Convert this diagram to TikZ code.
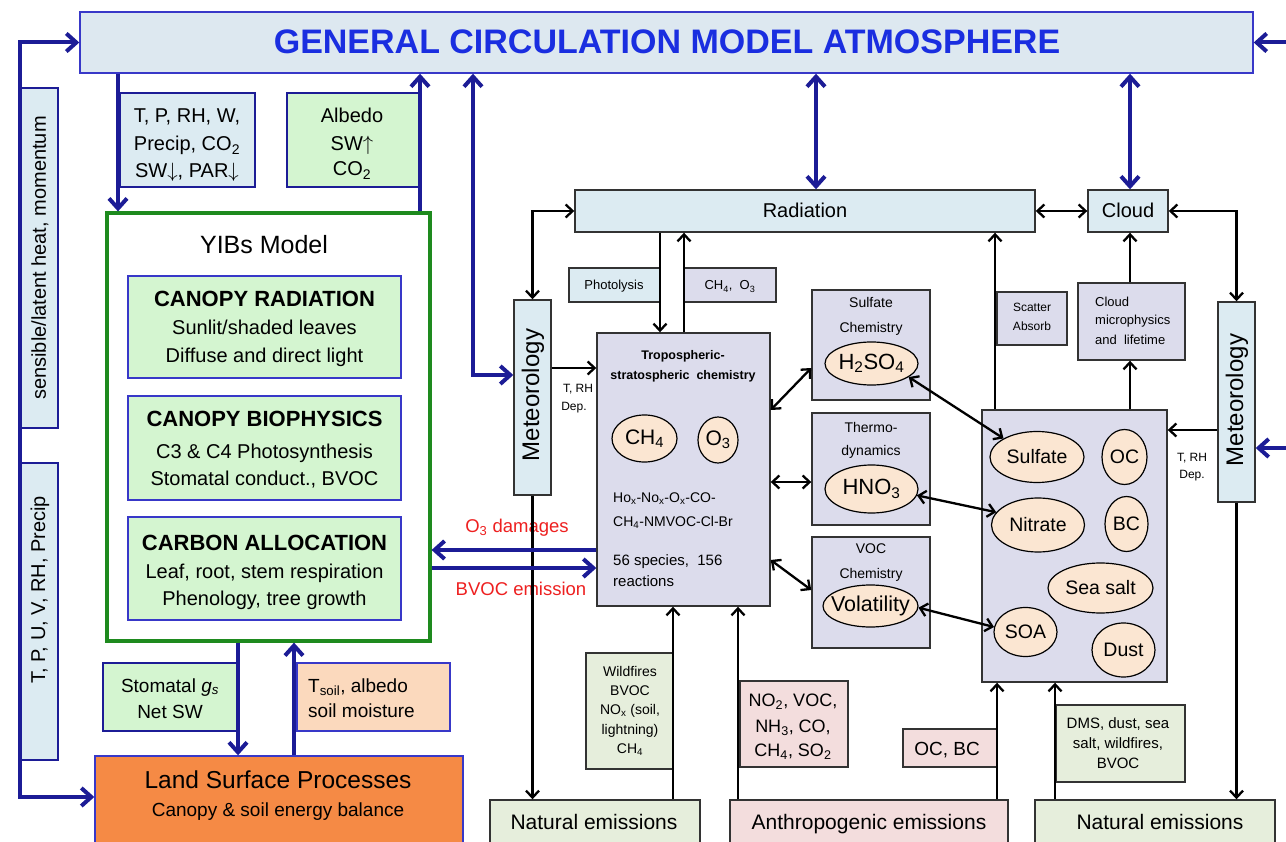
\documentclass[tikz,border=0pt]{standalone}
\usepackage{fontspec}
\setmainfont{Liberation Sans}
\usetikzlibrary{arrows.meta,shapes.geometric}
\definecolor{gcmfill}{HTML}{DDE8F0}
\definecolor{gcmborder}{HTML}{3838C8}
\definecolor{gcmtext}{HTML}{1A2EE0}
\definecolor{navy}{HTML}{1C1C96}
\definecolor{lblue}{HTML}{DCEBF2}
\definecolor{lgreen}{HTML}{D4F5D0}
\definecolor{ygreen}{HTML}{1E8A1E}
\definecolor{lav}{HTML}{DCDCEC}
\definecolor{peach}{HTML}{FBE6D2}
\definecolor{orangeb}{HTML}{F58A45}
\definecolor{tsoil}{HTML}{FBD9BD}
\definecolor{natgreen}{HTML}{E6EEDC}
\definecolor{anthro}{HTML}{F3DDDD}
\definecolor{bgray}{HTML}{333333}
\definecolor{redtext}{HTML}{EE2020}
\newcommand\fsz[1]{\fontsize{#1}{#1}\selectfont}
\tikzset{
  bx/.style 2 args={draw=#1, fill=#2, line width=1.4pt, inner sep=0pt},
  ell/.style={ellipse, draw=black, fill=peach, line width=1.2pt, inner sep=0pt},
  txt/.style={anchor=base, inner sep=0pt},
  ltxt/.style={anchor=base west, inner sep=0pt},
  ctxt/.style={anchor=center, inner sep=0pt},
  barr/.style={draw=navy, line width=4pt},
  karr/.style={draw=black, line width=2.3pt},
  bt/.tip={Straight Barb[length=10pt,width=18pt]},
  kt/.tip={Straight Barb[length=7pt,width=13pt]},
}
\begin{document}
\begin{tikzpicture}[x=1pt,y=-1pt]
\useasboundingbox (0,0) rectangle (1286,842);
\fill[white] (0,0) rectangle (1286,842);

% ---------- boxes ----------
\node[bx={gcmborder}{gcmfill}, minimum width=1173pt, minimum height=61pt] (gcm) at (666.5,42.5) {};
\node[txt, text=gcmtext] (gcmt) at (667,54) {\fsz{34}\bfseries GENERAL CIRCULATION MODEL ATMOSPHERE};

\node[bx={navy}{lblue}, minimum width=38pt, minimum height=340pt] (sens) at (39,258) {};
\node[ctxt, rotate=90] (senst) at (40,258) {\fsz{20}sensible/latent heat, momentum};
\node[bx={navy}{lblue}, minimum width=38pt, minimum height=297pt] (tpuv) at (39,611.5) {};
\node[ctxt, rotate=90] (tpuvt) at (40,590) {\fsz{20}T, P, U, V, RH, Precip};

\node[bx={navy}{lblue}, minimum width=135pt, minimum height=94pt] (tpbox) at (187.5,140) {};
\node[txt] (tp1) at (187,123) {\fsz{20}T, P, RH, W,};
\node[txt] (tp2) at (187,151) {\fsz{20}Precip, CO\textsubscript{2}};
\node[txt] (tp3) at (187,178) {\fsz{20}SW$\downarrow$, PAR$\downarrow$};

\node[bx={navy}{lgreen}, minimum width=133pt, minimum height=94pt] (albedo) at (353.5,140) {};
\node[txt] (al1) at (352,123) {\fsz{20}Albedo};
\node[txt] (al2) at (352,151) {\fsz{20}SW$\uparrow$};
\node[txt] (al3) at (352,176) {\fsz{20}CO\textsubscript{2}};

\node[bx={ygreen}{white}, line width=3.2pt, minimum width=323pt, minimum height=428pt] (yibs) at (268.5,427) {};
\node[txt] (yibst) at (264,254) {\fsz{25}YIBs Model};

\node[bx={gcmborder}{lgreen}, minimum width=273pt, minimum height=102pt] (cr) at (264.5,327) {};
\node[txt] (cr1) at (264.5,307) {\fsz{22}\bfseries CANOPY RADIATION};
\node[txt] (cr2) at (264.5,335) {\fsz{20}Sunlit/shaded leaves};
\node[txt] (cr3) at (264.5,363) {\fsz{20}Diffuse and direct light};

\node[bx={gcmborder}{lgreen}, minimum width=273pt, minimum height=104pt] (cb) at (264.5,448) {};
\node[txt] (cb1) at (264.5,427) {\fsz{22}\bfseries CANOPY BIOPHYSICS};
\node[txt] (cb2) at (264.5,458) {\fsz{20}C3 \& C4 Photosynthesis};
\node[txt] (cb3) at (264.5,485) {\fsz{20}Stomatal conduct., BVOC};

\node[bx={gcmborder}{lgreen}, minimum width=273pt, minimum height=103pt] (ca) at (264.5,568.5) {};
\node[txt] (ca1) at (264.5,550) {\fsz{22}\bfseries CARBON ALLOCATION};
\node[txt] (ca2) at (264.5,578) {\fsz{20}Leaf, root, stem respiration};
\node[txt] (ca3) at (264.5,605) {\fsz{20}Phenology, tree growth};

\node[bx={navy}{lgreen}, minimum width=134pt, minimum height=68pt] (stom) at (170,697) {};
\node[txt] (st1) at (170,692) {\fsz{19}Stomatal \textit{g}\textsubscript{\textit{s}}};
\node[txt] (st2) at (170,718) {\fsz{19}Net SW};

\node[bx={gcmborder}{tsoil}, minimum width=153pt, minimum height=68pt] (tsoilb) at (373.5,697) {};
\node[ltxt] (ts1) at (308,692) {\fsz{19}T\textsubscript{soil}, albedo};
\node[ltxt] (ts2) at (308,717) {\fsz{19}soil moisture};

\node[bx={gcmborder}{orangeb}, minimum width=368pt, minimum height=92pt] (land) at (279,802) {};
\node[txt] (land1) at (278,788) {\fsz{24.5}Land Surface Processes};
\node[txt] (land2) at (278,816) {\fsz{19}Canopy \& soil energy balance};

\node[bx={bgray}{lblue}, minimum width=37pt, minimum height=195pt] (metL) at (532.5,397.5) {};
\node[ctxt, rotate=90] (metLt) at (533,395) {\fsz{24}Meteorology};
\node[bx={bgray}{lblue}, minimum width=37pt, minimum height=200pt] (metR) at (1236.5,402) {};
\node[ctxt, rotate=90] (metRt) at (1237,400) {\fsz{24}Meteorology};

\node[bx={bgray}{lblue}, minimum width=460pt, minimum height=42pt] (rad) at (805,211) {};
\node[txt] (radt) at (805,218) {\fsz{20}Radiation};
\node[bx={bgray}{lblue}, minimum width=80pt, minimum height=42pt] (cloud) at (1128,211) {};
\node[txt] (cloudt) at (1128,218) {\fsz{20}Cloud};

\node[bx={bgray}{lblue}, minimum width=91pt, minimum height=34pt] (phot) at (614.5,285) {};
\node[txt] (phott) at (614,290) {\fsz{13}Photolysis};
\node[bx={bgray}{lav}, minimum width=92pt, minimum height=34pt] (ch4o3) at (730,285) {};
\node[txt] (ch4o3t) at (730,290) {\fsz{13}CH\textsubscript{4}, \ O\textsubscript{3}};

\node[bx={bgray}{lav}, minimum width=173pt, minimum height=273pt] (tropo) at (683.5,469.5) {};
\node[txt] (tr1) at (683,360) {\fsz{12.5}\bfseries Tropospheric-};
\node[txt] (tr2) at (683,380) {\fsz{12.5}\bfseries stratospheric \ chemistry};
\node[ell, minimum width=65pt, minimum height=47pt] (ech4) at (644.5,438.5) {};
\node[ctxt] at (ech4) {\fsz{21}CH\textsubscript{4}};
\node[ell, minimum width=40pt, minimum height=46pt] (eo3) at (718,440) {};
\node[ctxt] at (eo3) {\fsz{21}O\textsubscript{3}};
\node[ltxt] (tr3) at (613,502) {\fsz{14}Ho\textsubscript{x}-No\textsubscript{x}-O\textsubscript{x}-CO-};
\node[ltxt] (tr4) at (613,526) {\fsz{14}CH\textsubscript{4}-NMVOC-Cl-Br};
\node[ltxt] (tr5) at (613,565) {\fsz{15}56 species, \ 156};
\node[ltxt] (tr6) at (613,586) {\fsz{15}reactions};

\node[bx={bgray}{lav}, minimum width=118pt, minimum height=110pt] (sulf) at (871,345) {};
\node[txt] at (871,308) {\fsz{14}Sulfate};
\node[txt] at (871,333) {\fsz{14}Chemistry};
\node[ell, minimum width=93pt, minimum height=43pt] (h2so4) at (871.5,363.5) {};
\node[ctxt] at (h2so4) {\fsz{22}H\textsubscript{2}SO\textsubscript{4}};

\node[bx={bgray}{lav}, minimum width=118pt, minimum height=112pt] (thermo) at (871,469) {};
\node[txt] at (871,432) {\fsz{14}Thermo-};
\node[txt] at (871,455) {\fsz{14}dynamics};
\node[ell, minimum width=93pt, minimum height=48pt] (hno3) at (871.5,489) {};
\node[ctxt] at (hno3) {\fsz{22}HNO\textsubscript{3}};

\node[bx={bgray}{lav}, minimum width=118pt, minimum height=111pt] (voc) at (871,592.5) {};
\node[txt] at (871,553) {\fsz{14}VOC};
\node[txt] at (871,578) {\fsz{14}Chemistry};
\node[ell, minimum width=95pt, minimum height=42pt] (vol) at (870.5,606) {};
\node[ctxt] at (vol) {\fsz{21.5}Volatility};

\node[bx={bgray}{lav}, minimum width=185pt, minimum height=272pt] (aer) at (1074.5,546) {};
\node[ell, minimum width=94pt, minimum height=51pt] (esulf) at (1037,457) {};
\node[ctxt] at (esulf) {\fsz{19.5}Sulfate};
\node[ell, minimum width=45pt, minimum height=55pt] (eoc) at (1124.5,457) {};
\node[ctxt] at (eoc) {\fsz{19.5}OC};
\node[ell, minimum width=93pt, minimum height=54pt] (enit) at (1038,525) {};
\node[ctxt] at (enit) {\fsz{19.5}Nitrate};
\node[ell, minimum width=43pt, minimum height=55pt] (ebc) at (1126.5,524) {};
\node[ctxt] at (ebc) {\fsz{19.5}BC};
\node[ell, minimum width=105pt, minimum height=50pt] (esea) at (1100.5,588) {};
\node[ctxt] at (esea) {\fsz{19.5}Sea salt};
\node[ell, minimum width=63pt, minimum height=49pt] (esoa) at (1025.5,632) {};
\node[ctxt] at (esoa) {\fsz{19.5}SOA};
\node[ell, minimum width=63pt, minimum height=54pt] (edust) at (1123.5,650) {};
\node[ctxt] at (edust) {\fsz{19.5}Dust};

\node[bx={bgray}{lav}, minimum width=70pt, minimum height=53pt] (scat) at (1032,318.5) {};
\node[txt] at (1032,312) {\fsz{12}Scatter};
\node[txt] at (1032,331) {\fsz{12}Absorb};
\node[bx={bgray}{lav}, minimum width=107pt, minimum height=77pt] (cmic) at (1131.5,321.5) {};
\node[ltxt] at (1095,306.5) {\fsz{13}Cloud};
\node[ltxt] at (1095,324.5) {\fsz{13}microphysics};
\node[ltxt] at (1095,344.5) {\fsz{13}and \ lifetime};

\node[txt] at (578,392) {\fsz{12}T, RH};
\node[txt] at (574,410) {\fsz{12}Dep.};
\node[txt] at (1192,461) {\fsz{12}T, RH};
\node[txt] at (1192,478) {\fsz{12}Dep.};

\node[bx={bgray}{natgreen}, minimum width=87pt, minimum height=116pt] (wild) at (629.5,711) {};
\node[txt] at (630,676) {\fsz{14}Wildfires};
\node[txt] at (630,695) {\fsz{14}BVOC};
\node[txt] at (630,714) {\fsz{14}NO\textsubscript{x} (soil,};
\node[txt] at (630,734) {\fsz{14}lightning)};
\node[txt] at (630,753) {\fsz{14}CH\textsubscript{4}};

\node[bx={bgray}{anthro}, minimum width=108pt, minimum height=86pt] (no2) at (794,724) {};
\node[txt] at (793,706.5) {\fsz{18}NO\textsubscript{2}, VOC,};
\node[txt] at (793,732.5) {\fsz{18}NH\textsubscript{3}, CO,};
\node[txt] at (793,756.5) {\fsz{18}CH\textsubscript{4}, SO\textsubscript{2}};

\node[bx={bgray}{anthro}, minimum width=94pt, minimum height=38pt] (ocbc) at (950,748) {};
\node[txt] at (947,755) {\fsz{19}OC, BC};

\node[bx={bgray}{natgreen}, minimum width=129pt, minimum height=77pt] (dms) at (1120.5,743.5) {};
\node[txt] at (1118,728.5) {\fsz{15}DMS, dust, sea};
\node[txt] at (1118,748.5) {\fsz{15}salt, wildfires,};
\node[txt] at (1118,768.5) {\fsz{15}BVOC};

\node[bx={bgray}{natgreen}, minimum width=210pt, minimum height=50pt] (natL) at (595,825) {};
\node[txt] at (594,829.5) {\fsz{21}Natural emissions};
\node[bx={bgray}{anthro}, minimum width=278pt, minimum height=50pt] (anth) at (869,825) {};
\node[txt] at (869,829.5) {\fsz{21}Anthropogenic emissions};
\node[bx={bgray}{natgreen}, minimum width=240pt, minimum height=50pt] (natR) at (1155,825) {};
\node[txt] at (1160,829.5) {\fsz{21}Natural emissions};

\node[txt, text=redtext] (o3d) at (517,532) {\fsz{18.5}O\textsubscript{3} damages};
\node[txt, text=redtext] (bvoc) at (521,595) {\fsz{18.5}BVOC emission};

% ---------- free ends ----------
\coordinate (rin1) at (1290,42.5);
\coordinate (rin2) at (1290,448);

% ---------- black connectors ----------
\draw[karr, kt-kt] (rad.west) -- (metL.north |- rad.west) -- (metL.north);
\draw[karr, -kt] (metL.east |- 0,368) -- (tropo.west |- 0,368);
\draw[karr, -kt] (metL.south) -- (metL.south |- natL.north);
\draw[karr, -kt] (rad.south -| 660,0) -- (tropo.north -| 660,0);
\draw[karr, -kt] (tropo.north -| 684,0) -- (rad.south -| 684,0);
\draw[karr, kt-kt] (rad.east) -- (cloud.west);
\draw[karr, kt-kt] (cloud.east) -- (metR.north |- cloud.east) -- (metR.north);
\draw[karr, -kt] (metR.west |- 0,430) -- (aer.east |- 0,430);
\draw[karr, -kt] (metR.south) -- (metR.south |- natR.north);
\draw[karr, -kt] (aer.north -| 995,0) -- (rad.south -| 995,0);
\draw[karr, -kt] (aer.north -| 1130,0) -- (cmic.south -| 1130,0);
\draw[karr, -kt] (cmic.north -| 1130,0) -- (cloud.south -| 1130,0);
\draw[karr, -kt] (natL.north -| 673,0) -- (tropo.south -| 673,0);
\draw[karr, -kt] (anth.north -| 738,0) -- (tropo.south -| 738,0);
\draw[karr, -kt] (anth.north -| 997,0) -- (aer.south -| 997,0);
\draw[karr, -kt] (natR.north -| 1055,0) -- (aer.south -| 1055,0);
\draw[karr, kt-kt] (tropo.east |- 0,410) -- (sulf.west |- 0,368);
\draw[karr, kt-kt] (tropo.east |- 0,482) -- (thermo.west |- 0,482);
\draw[karr, kt-kt] (tropo.east |- 0,560) -- (voc.west |- 0,590);
\draw[karr, kt-kt] (h2so4.-20) -- (esulf.151);
\draw[karr, kt-kt] (hno3.-8) -- (enit.163);
\draw[karr, kt-kt] (vol.-2) -- (esoa.171);

% ---------- blue connectors ----------
\draw[barr, bt-bt] (gcm.west) -- (20,42.5) -- (20,797) -- (land.west |- 0,797);
\draw[barr, -bt] (gcm.south -| 118,0) -- (yibs.north -| 118,0);
\draw[barr, -bt] (yibs.north -| 420,0) -- (gcm.south -| 420,0);
\draw[barr, bt-bt] (gcm.south -| 473,0) -- (473,375) -- (metL.west |- 0,375);
\draw[barr, bt-bt] (gcm.south -| 816,0) -- (rad.north -| 816,0);
\draw[barr, bt-bt] (gcm.south -| 1130,0) -- (cloud.north -| 1130,0);
\draw[barr, -bt] (rin1) -- (gcm.east);
\draw[barr, -bt] (rin2) -- (metR.east |- rin2);
\draw[barr, -bt] (yibs.south -| 238,0) -- (land.north -| 238,0);
\draw[barr, -bt] (land.north -| 294,0) -- (yibs.south -| 294,0);
\draw[barr, -bt] (tropo.west |- 0,550) -- (yibs.east |- 0,550);
\draw[barr, -bt] (yibs.east |- 0,568) -- (tropo.west |- 0,568);
\end{tikzpicture}
\end{document}
